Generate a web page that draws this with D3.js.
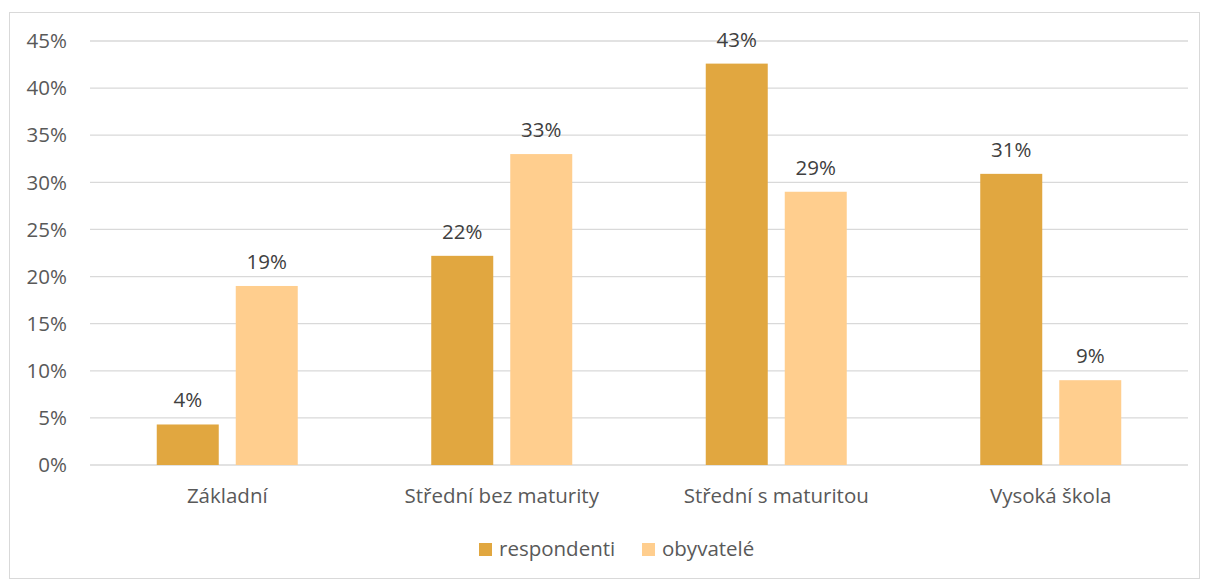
<!DOCTYPE html>
<html><head><meta charset="utf-8">
<script src="https://cdn.jsdelivr.net/npm/d3@7"></script>
<style>body{margin:0;background:#fff}svg{display:block}text{font-family:"Open Sans","Noto Sans",sans-serif}</style>
</head><body>
<svg id="c" width="1211" height="580"></svg>
<script>
const categories = ["Základní", "Střední bez maturity", "Střední s maturitou", "Vysoká škola"];
const seriesNames = ["respondenti", "obyvatelé"];
const respondenti = [4.3, 22.2, 42.6, 30.9];
const obyvatele = [19, 33, 29, 9];
const labelsResp = ["4%", "22%", "43%", "31%"];
const labelsObyv = ["19%", "33%", "29%", "9%"];
const yTicks = [0, 5, 10, 15, 20, 25, 30, 35, 40, 45];
const colors = ["#E1A740", "#FFCE8E"];

const svg = d3.select("#c");
svg.append("rect").attr("x", 9.5).attr("y", 12.5).attr("width", 1190).attr("height", 566)
  .attr("fill", "#fff").attr("stroke", "#d9d9d9");

const x0 = d3.scaleBand().domain(categories).range([90, 1188]);
const y = d3.scaleLinear().domain([0, 45]).range([465, 41]);
const fs = "20.5px";

const g = svg.append("g");
g.selectAll("line.grid").data(yTicks).join("line")
  .attr("x1", 90).attr("x2", 1188).attr("y1", d => y(d)).attr("y2", d => y(d))
  .attr("stroke", "#d9d9d9").attr("stroke-width", 1.3);
g.selectAll("text.yt").data(yTicks).join("text")
  .attr("x", 67).attr("y", d => y(d)).attr("dy", "0.35em").attr("text-anchor", "end")
  .attr("fill", "#595959").style("font-size", fs).text(d => d + "%");

const barW = 62, gap = 17;
const series = [respondenti, obyvatele];
const labels = [labelsResp, labelsObyv];
series.forEach((vals, si) => {
  const off = si === 0 ? -(gap / 2 + barW) : gap / 2;
  g.selectAll("rect.s" + si).data(categories).join("rect")
    .attr("x", d => x0(d) + x0.bandwidth() / 2 + off)
    .attr("y", (d, i) => y(vals[i]))
    .attr("width", barW).attr("height", (d, i) => y(0) - y(vals[i]))
    .attr("fill", colors[si]);
  g.selectAll("text.l" + si).data(categories).join("text")
    .attr("x", d => x0(d) + x0.bandwidth() / 2 + off + barW / 2)
    .attr("y", (d, i) => y(vals[i]) - 17)
    .attr("text-anchor", "middle").attr("fill", "#404040").style("font-size", fs)
    .text((d, i) => labels[si][i]);
});
g.selectAll("text.xt").data(categories).join("text")
  .attr("x", d => x0(d) + x0.bandwidth() / 2).attr("y", 496).attr("dy", "0.35em")
  .attr("text-anchor", "middle").attr("fill", "#595959").style("font-size", fs).text(d => d);

const leg = svg.append("g");
const legX = [479, 642];
seriesNames.forEach((n, i) => {
  leg.append("rect").attr("x", legX[i]).attr("y", 543).attr("width", 13).attr("height", 13).attr("fill", colors[i]);
  leg.append("text").attr("x", legX[i] + 20).attr("y", 549).attr("dy", "0.35em")
    .attr("fill", "#595959").style("font-size", fs).text(n);
});
</script>
</body></html>
